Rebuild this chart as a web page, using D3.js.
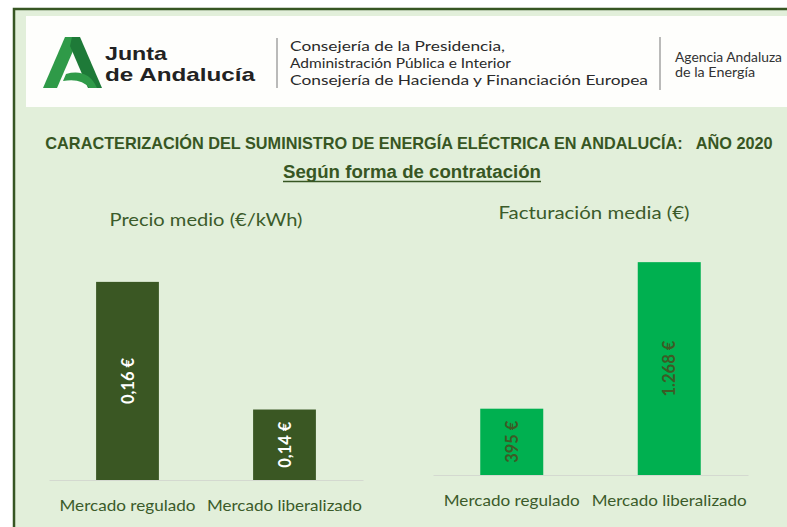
<!DOCTYPE html>
<html><head><meta charset="utf-8">
<script src="https://cdn.jsdelivr.net/npm/d3@7"></script>
<style>body{margin:0;background:#fff;}svg{display:block;}</style>
</head><body>
<script>
// ---- data ----
const categories = ["Mercado regulado", "Mercado liberalizado"];
const precioMedio = [0.1612, 0.1411];      // €/kWh
const facturacionMedia = [395, 1268];      // €
const precioAxis = [0.13, 0.17];
const facturacionAxis = [0, 1400];
const mainTitle = "CARACTERIZACIÓN DEL SUMINISTRO DE ENERGÍA ELÉCTRICA EN ANDALUCÍA:   AÑO 2020";
const subTitle = "Según forma de contratación";
const chartTitles = ["Precio medio (€/kWh)", "Facturación media (€)"];
const logoLines = ["Junta", "de Andalucía"];
const headerLines = ["Consejería de la Presidencia,", "Administración Pública e Interior", "Consejería de Hacienda y Financiación Europea"];
const agencyLines = ["Agencia Andaluza", "de la Energía"];

const W = 787, H = 527;
const textGreen = "#3b5b2a";
const es = d3.formatLocale({decimal: ",", thousands: ".", grouping: [3], currency: ["", " €"]});

const svg = d3.select("body").append("svg").attr("width", W).attr("height", H);

// frame
svg.append("rect").attr("x", 14).attr("y", 9).attr("width", W).attr("height", H)
  .attr("fill", "#e2efda").attr("stroke", "#375623").attr("stroke-width", 2.5);
// header band
svg.append("rect").attr("x", 26).attr("y", 16).attr("width", W - 26).attr("height", 91).attr("fill", "#fefefc");

function fit(sel, w) { sel.attr("textLength", w).attr("lengthAdjust", "spacingAndGlyphs"); return sel; }
function sizeTo(sel, w) {
  const s = +sel.attr("font-size");
  const len = sel.node().getComputedTextLength();
  sel.attr("font-size", (s * w / len).toFixed(2));
  return sel;
}
function lines(x, ys, ls, widths, font, size, weight, fill) {
  ls.forEach((l, i) => {
    fit(svg.append("text").attr("x", x).attr("y", ys[i]).attr("font-family", font).attr("font-size", size)
      .attr("font-weight", weight).attr("fill", fill).text(l), widths[i]);
  });
}

// logo
const logo = svg.append("g");
logo.append("path").attr("d", "M43,88 L65,37 L79,37 L57,88 Z").attr("fill", "#2f9a48");
logo.append("path").attr("d", "M72,37 L80,37 L102,88 L88,88 L70,46 Z").attr("fill", "#1e7a38");
logo.append("path").attr("d", "M66,74 Q88,68 97,88 L89,88 Q82,78 63,81 Z").attr("fill", "#2f9a48");
lines(105, [60, 81], logoLines, [62, 150], "'Liberation Sans', Arial, sans-serif", 18.2, "bold", "#222");
svg.append("line").attr("x1", 277).attr("x2", 277).attr("y1", 38).attr("y2", 88).attr("stroke", "#777").attr("stroke-width", 1);
svg.append("line").attr("x1", 660).attr("x2", 660).attr("y1", 37).attr("y2", 90).attr("stroke", "#777").attr("stroke-width", 1);
lines(290, [51, 68, 85], headerLines, [215, 221, 358], "Lato, sans-serif", 14, 400, "#2a2a2a");
lines(675, [62, 77], agencyLines, [107, 80], "Lato, sans-serif", 12.4, 400, "#333");

// titles
const cfont = "Lato, 'Open Sans', sans-serif";
const nfont = "'Liberation Sans', Arial, sans-serif";
sizeTo(svg.append("text").attr("x", 409).attr("y", 149).attr("text-anchor", "middle").attr("font-family", nfont)
  .attr("font-size", 15).attr("font-weight", "bold").attr("fill", "#375623").style("white-space", "pre").text(mainTitle), 728);
sizeTo(svg.append("text").attr("x", 412).attr("y", 178).attr("text-anchor", "middle").attr("font-family", nfont)
  .attr("font-size", 16).attr("font-weight", "bold").attr("fill", "#375623").text(subTitle), 258);
svg.append("line").attr("x1", 283).attr("x2", 541).attr("y1", 181.5).attr("y2", 181.5).attr("stroke", "#375623").attr("stroke-width", 1.3);

// charts
const charts = [
  {title: chartTitles[0], titleX: 206, titleY: 226, titleW: 193, values: precioMedio, domain: precioAxis,
   x0: 49, x1: 363, base: 480, top: 226, fill: "#3a5723", labelFill: "#ffffff", fmt: v => es.format(".2f")(v) + " €",
   labW: [46, 46], catY: 511},
  {title: chartTitles[1], titleX: 594, titleY: 219, titleW: 191, values: facturacionMedia, domain: facturacionAxis,
   x0: 433, x1: 748, base: 475, top: 240, fill: "#00b050", labelFill: "#3d5a25", fmt: v => es.format(",.0f")(v) + " €",
   labW: [42, 56], catY: 506}
];
charts.forEach(c => {
  const g = svg.append("g");
  const x = d3.scaleBand().domain(categories).range([c.x0, c.x1]).paddingInner(0.6).paddingOuter(0.3);
  const y = d3.scaleLinear().domain(c.domain).range([c.base, c.top]);
  fit(g.append("text").attr("x", c.titleX).attr("y", c.titleY).attr("text-anchor", "middle").attr("font-family", cfont)
    .attr("font-size", 18).attr("fill", textGreen).text(c.title), c.titleW);
  g.selectAll("rect.bar").data(c.values).join("rect").attr("class", "bar")
    .attr("x", (d, i) => x(categories[i])).attr("width", x.bandwidth())
    .attr("y", d => y(d)).attr("height", d => c.base - y(d)).attr("fill", c.fill);
  const axis = g.append("g").attr("transform", `translate(0,${c.base})`)
    .call(d3.axisBottom(x).tickSize(0).tickPadding(0).tickFormat(() => ""));
  axis.select(".domain").attr("stroke", "#d4d9d0").attr("stroke-width", 1.2);
  g.selectAll("text.val").data(c.values).join("text").attr("class", "val")
    .attr("transform", (d, i) => `translate(${x(categories[i]) + x.bandwidth() / 2 + 6},${(y(d) + c.base) / 2}) rotate(-90)`)
    .attr("text-anchor", "middle").attr("font-family", cfont).attr("font-weight", "bold").attr("font-size", 16.5)
    .attr("fill", c.labelFill).attr("textLength", (d, i) => c.labW[i]).attr("lengthAdjust", "spacingAndGlyphs")
    .text(d => c.fmt(d));
  const cw = [136, 155];
  categories.forEach((cat, i) => {
    fit(g.append("text").attr("x", x(cat) + x.bandwidth() / 2).attr("y", c.catY).attr("text-anchor", "middle")
      .attr("font-family", cfont).attr("font-size", 16).attr("fill", textGreen).text(cat), cw[i]);
  });
});
</script>
</body></html>
